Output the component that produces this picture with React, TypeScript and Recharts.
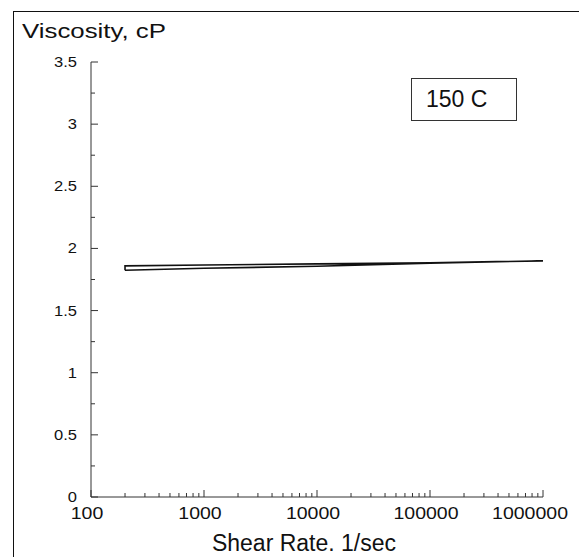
import { LineChart, Line, XAxis, YAxis } from 'recharts';

// shear rate (1/sec) vs viscosity (cP) at 150 C
const shearRates = [200, 1000, 10000, 100000, 1000000];
const viscosityUp = [1.86, 1.867, 1.876, 1.885, 1.9];
const viscosityDown = [1.825, 1.84, 1.857, 1.882, 1.9];

const yTicks = [0, 0.25, 0.5, 0.75, 1, 1.25, 1.5, 1.75, 2, 2.25, 2.5, 2.75, 3, 3.25, 3.5];
const xMajor = [100, 1000, 10000, 100000, 1000000];
const xMinorSteps = [2, 3, 4, 5, 6, 7, 8, 9];
const xTicks = xMajor.flatMap((d, i) =>
  i < xMajor.length - 1 ? [d, ...xMinorSteps.map((m) => d * m)] : [d],
);

// the curve is a closed loop: lower branch out, upper branch back
const loop = [
  ...shearRates.map((x, i) => ({ x, y: viscosityDown[i] })),
  ...shearRates.map((x, i) => ({ x, y: viscosityUp[i] })).reverse(),
  { x: shearRates[0], y: viscosityDown[0] },
];

const FONT = '"Liberation Sans", Arial, sans-serif';
const INK = '#111';

// scanned labels are a bit wider than plain Arial, so stretch them a little
const stretched = (s: string, em: number) =>
  s.split('').reduce((w, c) => w + (c === '.' ? 0.278 : 0.556), 0) * em;

function YTick({ x, y, payload }: any) {
  const v = payload.value as number;
  const major = Math.abs(v * 2 - Math.round(v * 2)) < 1e-6;
  const label = String(v);
  return (
    <g>
      <line x1={x} y1={y} x2={x + (major ? 7 : 4)} y2={y} stroke="#333" strokeWidth={1} />
      {major && (
        <text
          x={x - 14 - stretched(label, 16.5)}
          y={y + 5}
          fontSize={15}
          fontFamily={FONT}
          fill={INK}
          textLength={stretched(label, 16.5)}
          lengthAdjust="spacingAndGlyphs"
        >
          {label}
        </text>
      )}
    </g>
  );
}

function XTick({ x, y, payload }: any) {
  const v = payload.value as number;
  const major = xMajor.includes(v);
  const label = String(v);
  const w = stretched(label, 19.5);
  // labels sit slightly left of their tick; the last one is kept inside the frame
  const left = Math.min(x - w / 2 - 4, 568 - w);
  return (
    <g>
      <line x1={x} y1={y} x2={x} y2={y - (major ? 7 : 4)} stroke="#333" strokeWidth={1} />
      {major && (
        <text
          x={left}
          y={y + 22}
          fontSize={16.5}
          fontFamily={FONT}
          fill={INK}
          textLength={w}
          lengthAdjust="spacingAndGlyphs"
        >
          {label}
        </text>
      )}
    </g>
  );
}

export default function App() {
  return (
    <div style={{ position: 'relative', width: 587, height: 557, margin: '-8px 0 0 -8px', background: '#fff' }}>
      <div
        style={{
          position: 'absolute',
          left: 13,
          top: 11,
          width: 568,
          height: 546,
          borderTop: `1.5px solid ${INK}`,
          borderLeft: `1.5px solid ${INK}`,
          borderRight: `1.5px solid ${INK}`,
        }}
      />
      <div style={{ position: 'absolute', left: 0, top: 0 }}>
        <LineChart width={587} height={557} margin={{ top: 62, right: 44, bottom: 30, left: 0 }}>
          <XAxis
            dataKey="x"
            type="number"
            scale="log"
            domain={[100, 1000000]}
            allowDataOverflow
            ticks={xTicks}
            interval={0}
            height={30}
            tickSize={0}
            tickMargin={0}
            tickLine={false}
            axisLine={{ stroke: '#333', strokeWidth: 1 }}
            tick={<XTick />}
          />
          <YAxis
            type="number"
            domain={[0, 3.5]}
            ticks={yTicks}
            interval={0}
            width={91}
            tickSize={0}
            tickMargin={0}
            tickLine={false}
            axisLine={{ stroke: '#333', strokeWidth: 1 }}
            tick={<YTick />}
          />
          <Line
            data={loop}
            dataKey="y"
            type="linear"
            stroke={INK}
            strokeWidth={1.6}
            dot={false}
            isAnimationActive={false}
          />
        </LineChart>
      </div>
      <svg width={587} height={557} style={{ position: 'absolute', left: 0, top: 0, pointerEvents: 'none' }}>
        <text x={22} y={38} fontSize={21} fontFamily={FONT} fill={INK} textLength={144} lengthAdjust="spacingAndGlyphs">
          Viscosity, cP
        </text>
        <text x={304} y={551} textAnchor="middle" fontSize={23} fontFamily={FONT} fill={INK}>
          Shear Rate. 1/sec
        </text>
        <rect x={411.5} y={78.5} width={105} height={42} fill="#fff" stroke="#333" strokeWidth={1} />
        <text x={426} y={107} fontSize={23} fontFamily={FONT} fill={INK}>
          150 C
        </text>
      </svg>
    </div>
  );
}
